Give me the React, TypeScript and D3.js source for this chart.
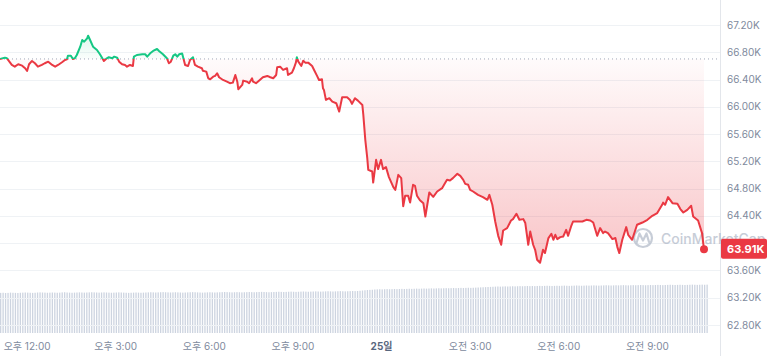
import React, { useEffect, useRef } from 'react';
import * as d3 from 'd3';

const W = 769;
const H = 356;

// minutes elapsed since 11:05 (24일)
const minutes = [
  0, 10, 14, 24, 30, 37, 45, 51, 55, 59, 65, 71, 77, 85, 91, 98, 106, 112, 118, 126,
  132, 136, 138, 144, 148, 152, 156, 163, 167, 171, 177, 179, 183, 189, 197, 203, 209, 211, 217, 221,
  228, 232, 238, 242, 248, 254, 258, 264, 270, 272, 278, 289, 295, 299, 305, 311, 319, 323, 331, 339,
  343, 347, 352, 356, 360, 364,
  370, 376, 382, 386, 392, 396, 402, 410, 412, 419, 423, 427, 433, 437, 441, 445, 453, 461, 467, 473,
  478, 482, 484, 492, 494, 502, 506, 512, 514, 520, 526, 534, 543, 549, 555, 561, 563, 569, 575, 583,
  585, 593, 597, 601, 603, 606, 612, 616, 620, 626, 634, 638, 644, 648, 654, 656,
  658, 662, 669, 675, 683, 689, 695, 705, 711, 715, 721, 727, 736, 738, 742, 746, 748, 756, 758, 764,
  768, 774, 778, 784, 790, 799, 803, 809, 815, 819, 823, 829, 833, 839, 843, 847, 853, 860, 864, 872,
  880, 888, 898, 902, 908, 914, 920, 929, 935, 941, 945, 951, 955, 961, 971, 981, 990, 994, 1000, 1006,
  1012, 1018,
  1022, 1030, 1038, 1042, 1049, 1055, 1063, 1067, 1073, 1077, 1083, 1087, 1091, 1097, 1103, 1107, 1114, 1120, 1124, 1128,
  1132, 1138, 1144, 1150, 1154, 1160, 1164, 1174, 1183, 1191, 1199, 1205, 1213, 1219, 1225, 1229, 1235, 1244, 1250, 1254,
  1258, 1264, 1272, 1276, 1284, 1288, 1294, 1305, 1315, 1325, 1335, 1345, 1347, 1351, 1357, 1366, 1376, 1382, 1388, 1396,
  1404, 1408, 1418, 1426, 1430,
];

const prices = [
  66702, 66721, 66712, 66614, 66589, 66624, 66604, 66566, 66526, 66624,
  66673, 66639, 66589, 66614, 66639, 66662, 66614, 66589, 66614, 66653,
  66687, 66697, 66750, 66750, 66702, 66712, 66760, 66882, 66980, 66955,
  67005, 67043, 66980, 66882, 66834, 66771, 66697, 66673, 66712, 66727,
  66712, 66736, 66721, 66662, 66624, 66614, 66589, 66614, 66599, 66736,
  66760, 66771, 66771, 66736, 66785, 66819, 66848, 66819, 66771, 66712,
  66639, 66662, 66750, 66771, 66736, 66771,
  66782, 66614, 66599, 66687, 66727, 66614, 66589, 66566, 66530, 66516,
  66419, 66404, 66442, 66453, 66492, 66434, 66394, 66369, 66346, 66355,
  66467, 66369, 66258, 66321, 66384, 66369, 66346, 66419, 66369, 66346,
  66384, 66434, 66453, 66434, 66419, 66467, 66580, 66589, 66541, 66566,
  66467, 66501, 66566, 66648, 66727, 66662, 66599, 66677, 66648, 66648,
  66599, 66541, 66453, 66394, 66404, 66273,
  66248, 66101, 66126, 66076, 66053, 65930, 66141, 66141, 66101, 66043,
  66126, 66091, 66028, 65881, 65515, 65247, 65076, 65051, 64889, 65222,
  65086, 65222, 65086, 65115, 64969, 64822, 64782, 65002, 64954, 64541,
  64695, 64695, 64596, 64856, 64841, 64695, 64629, 64585, 64391, 64743,
  64680, 64758, 64807, 64856, 64929, 64919, 64954, 65017, 64988, 64929,
  64870, 64856, 64782, 64758, 64709, 64676, 64636, 64709, 64563, 64314,
  64108, 63977,
  64186, 64221, 64333, 64353, 64431, 64343, 64353, 64295, 63977, 64171,
  63977, 63903, 63757, 63713, 63903, 63855, 64075, 64138, 64050, 64123,
  64060, 64089, 64098, 64196, 64108, 64245, 64318, 64318, 64318, 64343,
  64333, 64303, 64108, 64221, 64148, 64171, 64148, 64060, 64075, 63943,
  63855, 64050, 64236, 64123, 64050, 64138, 64270, 64303, 64343, 64401,
  64441, 64563, 64596, 64563, 64676, 64587, 64577, 64500, 64450, 64489,
  64548, 64391, 64333, 64148, 63910,
];

// 24h rolling volume (billions USD), one bar per 5 minutes
const volumes = [
  32.1, 32.2, 32.0, 32.1, 32.3, 32.2, 32.1, 32.0, 32.2, 32.3, 32.4, 32.3, 32.2, 32.1, 32.2, 32.4, 32.5, 32.4, 32.3, 32.2, 32.3, 32.4, 32.3, 32.2,
  32.3, 32.5, 32.6, 32.4, 32.3, 32.2, 32.3, 32.4, 32.5, 32.4, 32.3, 32.4, 32.5, 32.6, 32.5, 32.4, 32.3, 32.4, 32.5, 32.4, 32.3, 32.2, 32.3, 32.4,
  32.5, 32.4, 32.3, 32.2, 32.1, 32.2, 32.3, 32.4, 32.3, 32.2, 32.3, 32.4, 32.5, 32.6, 32.5, 32.4, 32.5, 32.6, 32.7, 32.6, 32.5, 32.4, 32.5, 32.6,
  32.5, 32.4, 32.3, 32.4, 32.5, 32.6, 32.7, 32.6, 32.5, 32.4, 32.3, 32.4, 32.5, 32.6, 32.5, 32.4, 32.5, 32.6, 32.7, 32.8, 32.7, 32.6, 32.5, 32.6,
  32.7, 32.6, 32.5, 32.6, 32.7, 32.8, 32.7, 32.6, 32.7, 32.8, 32.9, 32.8, 32.7, 32.6, 32.7, 32.8, 32.9, 33.0, 32.9, 32.8, 32.9, 33.0, 33.1, 33.0,
  32.9, 33.0, 33.1, 33.2, 33.1, 33.0, 33.1, 33.2, 33.3, 33.2, 33.1, 33.2, 33.3, 33.4, 33.3, 33.2, 33.3, 33.4, 33.5, 33.4, 33.3, 33.4, 33.5, 33.6,
  33.5, 33.6, 33.8, 34.0, 34.2, 34.4, 34.5, 34.6, 34.8, 34.9, 35.0, 34.9, 35.0, 35.1, 35.0, 35.1, 35.2, 35.1, 35.2, 35.3, 35.2, 35.3, 35.4, 35.3,
  35.4, 35.5, 35.4, 35.5, 35.6, 35.5, 35.6, 35.7, 35.6, 35.7, 35.8, 35.7, 35.8, 35.9, 35.8, 35.9, 36.0, 35.9, 36.0, 36.1, 36.0, 36.1, 36.2, 36.1,
  36.2, 36.3, 36.4, 36.5, 36.6, 36.7, 36.8, 36.9, 37.0, 37.1, 37.2, 37.1, 37.2, 37.3, 37.2, 37.3, 37.4, 37.3, 37.4, 37.5, 37.4, 37.5, 37.6, 37.5,
  37.6, 37.5, 37.6, 37.7, 37.6, 37.7, 37.8, 37.7, 37.6, 37.7, 37.8, 37.7, 37.8, 37.9, 37.8, 37.7, 37.8, 37.9, 38.0, 37.9, 37.8, 37.9, 38.0, 37.9,
  38.0, 38.1, 38.0, 37.9, 38.0, 38.1, 38.2, 38.1, 38.0, 38.1, 38.2, 38.1, 38.2, 38.3, 38.2, 38.1, 38.2, 38.3, 38.2, 38.3, 38.4, 38.3, 38.2, 38.3,
  38.4, 38.3, 38.4, 38.5, 38.4, 38.3, 38.4, 38.5, 38.6, 38.5, 38.4, 38.5, 38.6, 38.5, 38.4, 38.5, 38.6, 38.7, 38.6, 38.5, 38.6, 38.7, 38.6, 38.7,
];

const priceTicks = [62800, 63200, 63600, 64000, 64400, 64800, 65200, 65600, 66000, 66400, 66800, 67200];
const timeTicks = [55, 235, 415, 595, 775, 955, 1135, 1315];
const timeLabels = ['오후 12:00', '오후 3:00', '오후 6:00', '오후 9:00', '25일', '오전 3:00', '오전 6:00', '오전 9:00'];

const RED = '#ea3943';
const GREEN = '#16c784';
const FONT = "Inter, 'Noto Sans CJK KR', sans-serif";

export default function App() {
  const ref = useRef<SVGSVGElement>(null);

  useEffect(() => {
    const svg = d3.select(ref.current);
    svg.selectAll('*').remove();

    const x = d3.scaleLinear().domain([0, 1430]).range([0, 704]);
    const y = d3.scaleLinear().domain([62800, 67200]).range([325, 25]);
    const yv = d3.scaleLinear().domain([0, 40]).range([333, 283]);
    const base = prices[0];
    const yb = y(base);
    const last = prices[prices.length - 1];
    const yl = y(last);

    const defs = svg.append('defs');
    defs.append('clipPath').attr('id', 'above').append('rect')
      .attr('x', 0).attr('y', 0).attr('width', 720).attr('height', yb);
    defs.append('clipPath').attr('id', 'below').append('rect')
      .attr('x', 0).attr('y', yb).attr('width', 720).attr('height', H - yb);

    const gG = defs.append('linearGradient').attr('id', 'gG')
      .attr('gradientUnits', 'userSpaceOnUse').attr('x1', 0).attr('x2', 0).attr('y1', yb).attr('y2', 30);
    gG.append('stop').attr('offset', 0).attr('stop-color', GREEN).attr('stop-opacity', 0.02);
    gG.append('stop').attr('offset', 1).attr('stop-color', GREEN).attr('stop-opacity', 0.16);
    const gR = defs.append('linearGradient').attr('id', 'gR')
      .attr('gradientUnits', 'userSpaceOnUse').attr('x1', 0).attr('x2', 0).attr('y1', yb).attr('y2', 265);
    gR.append('stop').attr('offset', 0).attr('stop-color', RED).attr('stop-opacity', 0.02);
    gR.append('stop').attr('offset', 1).attr('stop-color', RED).attr('stop-opacity', 0.3);

    // volume bars
    svg.append('g').selectAll('rect').data(volumes).join('rect')
      .attr('x', (_d, i) => x(i * 5))
      .attr('width', 1.3)
      .attr('y', (d) => yv(d))
      .attr('height', (d) => yv(0) - yv(d))
      .attr('fill', '#cdd4e0');

    // gridlines
    svg.append('g').selectAll('line').data(priceTicks).join('line')
      .attr('x1', 0).attr('x2', 720)
      .attr('y1', (d) => Math.round(y(d)) + 0.5).attr('y2', (d) => Math.round(y(d)) + 0.5)
      .attr('stroke', '#eff2f5').attr('stroke-width', 1);

    svg.append('line').attr('x1', 720.5).attr('x2', 720.5).attr('y1', 0).attr('y2', H)
      .attr('stroke', '#e3e6eb').attr('stroke-width', 1);

    // areas
    const area = d3.area<number>()
      .x((_d, i) => x(minutes[i]))
      .y0(yb)
      .y1((d) => y(d));
    svg.append('path').attr('d', area(prices)).attr('fill', 'url(#gG)').attr('clip-path', 'url(#above)');
    svg.append('path').attr('d', area(prices)).attr('fill', 'url(#gR)').attr('clip-path', 'url(#below)');

    // baseline
    svg.append('line').attr('x1', 0).attr('x2', 718).attr('y1', yb).attr('y2', yb)
      .attr('stroke', '#a0a8b8').attr('stroke-width', 1).attr('stroke-dasharray', '1 3');

    // watermark
    const wm = svg.append('g').attr('opacity', 0.55);
    wm.append('circle').attr('cx', 643).attr('cy', 238).attr('r', 9)
      .attr('fill', 'none').attr('stroke', '#9aa5b8').attr('stroke-width', 2.2);
    wm.append('path').attr('d', 'M636.5,243 L639.5,233.5 L643,240.5 L646.5,233.5 L649,242')
      .attr('fill', 'none').attr('stroke', '#9aa5b8').attr('stroke-width', 2.2)
      .attr('stroke-linejoin', 'round').attr('stroke-linecap', 'round');
    wm.append('text').attr('x', 661).attr('y', 244).text('CoinMarketCap')
      .attr('font-family', FONT).attr('font-size', 14).attr('font-weight', 500).attr('fill', '#9aa5b8');

    // line
    const line = d3.line<number>().x((_d, i) => x(minutes[i])).y((d) => y(d));
    svg.append('path').attr('d', line(prices)).attr('fill', 'none').attr('stroke', GREEN)
      .attr('stroke-width', 2).attr('stroke-linejoin', 'round').attr('clip-path', 'url(#above)');
    svg.append('path').attr('d', line(prices)).attr('fill', 'none').attr('stroke', RED)
      .attr('stroke-width', 2).attr('stroke-linejoin', 'round').attr('clip-path', 'url(#below)');

    svg.append('circle').attr('cx', x(minutes[minutes.length - 1])).attr('cy', yl).attr('r', 4).attr('fill', RED);

    // y labels (the one hidden under the current-price tag is not drawn)
    svg.append('g').selectAll('text').data(priceTicks.filter((d) => Math.abs(y(d) - yl) > 14)).join('text')
      .attr('x', 727).attr('y', (d) => y(d)).attr('dy', '0.35em')
      .attr('font-family', FONT).attr('font-size', 10).attr('fill', '#808a9d')
      .text((d) => `${(d / 1000).toFixed(2)}K`);

    // price label
    svg.append('rect').attr('x', 721).attr('y', yl - 10.5).attr('width', 46).attr('height', 20)
      .attr('fill', RED).attr('rx', 2);
    svg.append('text').attr('x', 727).attr('y', yl - 0.5).attr('dy', '0.35em')
      .attr('font-family', FONT).attr('font-size', 11).attr('font-weight', 700).attr('fill', '#fff')
      .text(`${(last / 1000).toFixed(2)}K`);

    // x labels
    svg.append('g').selectAll('text').data(timeTicks).join('text')
      .attr('x', (d) => x(d)).attr('y', 349.5).attr('text-anchor', 'middle')
      .attr('font-family', FONT).attr('font-size', 10)
      .attr('font-weight', (_d, i) => (timeLabels[i] === '25일' ? 700 : 400))
      .attr('fill', (_d, i) => (timeLabels[i] === '25일' ? '#58667e' : '#808a9d'))
      .text((_d, i) => timeLabels[i]);
  }, []);

  return (
    <div style={{ position: 'fixed', left: 0, top: 0, background: '#fff' }}>
      <svg ref={ref} width={W} height={H} style={{ display: 'block' }} />
    </div>
  );
}
